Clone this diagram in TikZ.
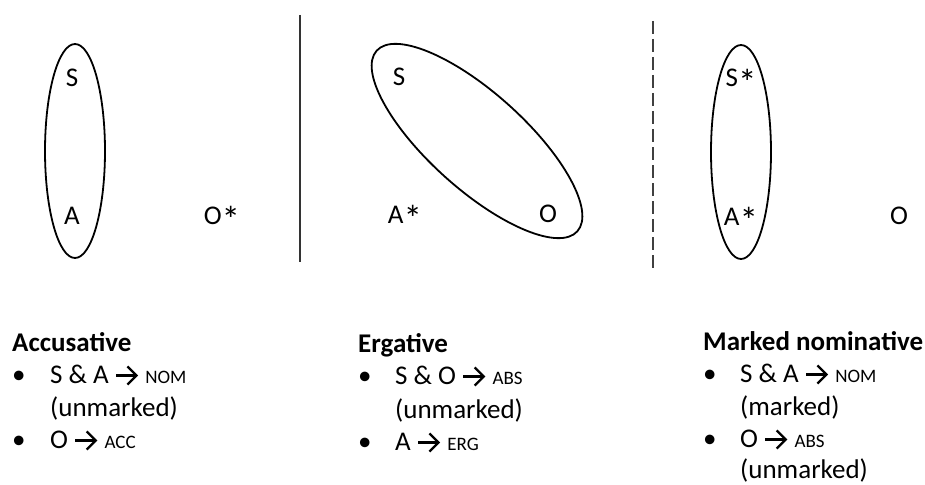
\documentclass[tikz,border=0pt]{standalone}
\usepackage{fontspec}
\setmainfont{Carlito}
\usetikzlibrary{arrows.meta}
\newcommand{\smc}[1]{{\fontsize{19}{20}\selectfont #1}}
\newcommand{\rarr}{\tikz[baseline=0pt]\draw[line width=2.3pt,-{Straight Barb[length=9pt,width=18pt,line width=2.3pt]}] (0,7.5pt)--(22pt,7.5pt);}
\newcommand{\bigast}{\raisebox{-8.5pt}{\fontsize{37}{37}\selectfont *}}
\begin{document}
\begin{tikzpicture}[x=1pt,y=1pt,
  lbl/.style={font=\fontsize{27}{32}\selectfont, inner sep=0pt},
  txt/.style={font=\fontsize{27}{32}\selectfont, inner sep=0pt, anchor=base west},
  ttl/.style={font=\fontsize{27}{32}\selectfont\bfseries, inner sep=0pt, anchor=base west},
  ring/.style={line width=1.8pt, black}]
\useasboundingbox (0,0) rectangle (925,-484);
% separators
\coordinate (l1t) at (300,-15); \coordinate (l1b) at (300,-262);
\draw[line width=1.2pt, black!80] (l1t) -- (l1b);
\coordinate (l2t) at (653,-21); \coordinate (l2b) at (653,-268);
\draw[line width=1.5pt, black!75, dash pattern=on 13pt off 5pt] (l2t) -- (l2b);
% left panel
\draw[ring] (75,-151) ellipse [x radius=30pt, y radius=107pt];
\node[lbl] (s1) at (72,-78) {S};
\node[lbl] (a1) at (72,-216) {A};
\node[lbl, anchor=base] (o1) at (222,-224) {O\bigast};
% middle panel
\draw[ring, rotate around={-42:(477,-141)}] (477,-141) ellipse [x radius=135pt, y radius=48pt];
\node[lbl] (s2) at (399,-77) {S};
\node[lbl, anchor=base] (a2) at (405,-223) {A\bigast};
\node[lbl] (o2) at (548,-214) {O};
% right panel
\draw[ring] (741,-152) ellipse [x radius=30pt, y radius=107pt];
\node[lbl, anchor=base] (s3) at (741,-87) {S\bigast};
\node[lbl, anchor=base] (a3) at (741,-225) {A\bigast};
\node[lbl] (o3) at (899,-216) {O};
% left text
\node[ttl] (t1) at (12,-351) {Accusative};
\node[txt] (b11) at (12,-383) {•};
\node[txt] (x11) at (50,-383) {S \& A \rarr{} \smc{NOM}};
\node[txt] (x12) at (50,-416) {(unmarked)};
\node[txt] (b12) at (12,-448) {•};
\node[txt] (x13) at (50,-448) {O \rarr{} \smc{ACC}};
% middle text
\node[ttl] (t2) at (358,-352) {Ergative};
\node[txt] (b21) at (358,-384) {•};
\node[txt] (x21) at (395,-384) {S \& O \rarr{} \smc{ABS}};
\node[txt] (x22) at (395,-418) {(unmarked)};
\node[txt] (b22) at (358,-450) {•};
\node[txt] (x23) at (395,-450) {A \rarr{} \smc{ERG}};
% right text
\node[ttl] (t3) at (703,-350) {Marked nominative};
\node[txt] (b31) at (703,-382) {•};
\node[txt] (x31) at (740,-382) {S \& A \rarr{} \smc{NOM}};
\node[txt] (x32) at (740,-415) {(marked)};
\node[txt] (b32) at (703,-447) {•};
\node[txt] (x33) at (740,-447) {O \rarr{} \smc{ABS}};
\node[txt] (x34) at (740,-478) {(unmarked)};
\end{tikzpicture}
\end{document}
